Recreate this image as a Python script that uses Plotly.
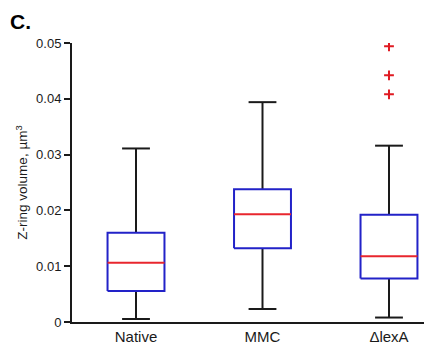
import plotly.graph_objects as go

categories = ["Native", "MMC", "ΔlexA"]
lower_whisker = [0.00054, 0.00233, 0.0008]
q1 = [0.00557, 0.0132, 0.0078]
median = [0.0106, 0.0193, 0.0118]
q3 = [0.0160, 0.0238, 0.0192]
upper_whisker = [0.0311, 0.0394, 0.0316]
outlier_cat = [2, 2, 2]
outlier_vals = [0.0494, 0.0442, 0.0408]
y_ticks = [0, 0.01, 0.02, 0.03, 0.04, 0.05]
y_ticktext = ["0", "0.01", "0.02", "0.03", "0.04", "0.05"]

BW = 0.225   # box half width (category units)
CW = 0.11    # cap half width

fig = go.Figure()

for i, cat in enumerate(categories):
    # whiskers
    fig.add_trace(go.Scatter(
        x=[i, i, None, i, i, None, i - CW, i + CW, None, i - CW, i + CW],
        y=[lower_whisker[i], q1[i], None, q3[i], upper_whisker[i], None,
           lower_whisker[i], lower_whisker[i], None, upper_whisker[i], upper_whisker[i]],
        mode="lines", line=dict(color="#1a1a1a", width=2),
        hoverinfo="skip", showlegend=False))
    # box
    fig.add_trace(go.Scatter(
        x=[i - BW, i + BW, i + BW, i - BW, i - BW],
        y=[q1[i], q1[i], q3[i], q3[i], q1[i]],
        mode="lines", fill="toself", fillcolor="white",
        line=dict(color="#2222c8", width=2),
        hoverinfo="skip", showlegend=False))
    # median
    fig.add_trace(go.Scatter(
        x=[i - BW, i + BW], y=[median[i], median[i]],
        mode="lines", line=dict(color="#e8262e", width=2),
        hoverinfo="skip", showlegend=False))

fig.add_trace(go.Scatter(
    x=outlier_cat, y=outlier_vals, mode="markers",
    marker=dict(symbol="cross-thin", size=7, color="#e01a22",
                line=dict(color="#e01a22", width=2)),
    hoverinfo="skip", showlegend=False))

# the page has a default 8px body margin, so the figure is sized to fit the window
fig.update_layout(
    width=424, height=341,
    margin=dict(l=64, r=0, t=35, b=27, autoexpand=False),
    paper_bgcolor="white", plot_bgcolor="white",
    font=dict(family="Liberation Sans, Arial, sans-serif", color="#1a1a1a"),
    xaxis=dict(range=[-0.506, 2.34], tickmode="array",
               tickvals=list(range(len(categories))), ticktext=categories,
               showgrid=False, zeroline=False, showline=True,
               linecolor="#1a1a1a", linewidth=2, ticks="",
               tickfont=dict(size=15)),
    yaxis=dict(range=[0, 0.05], tickmode="array", tickvals=y_ticks,
               ticktext=y_ticktext, showgrid=False, zeroline=False,
               showline=True, linecolor="#1a1a1a", linewidth=2,
               ticks="outside", ticklen=6, tickwidth=1.5, tickcolor="#1a1a1a",
               tickfont=dict(size=13),
               title=dict(text="Z-ring volume, µm<sup>3</sup>",
                          font=dict(size=13.5), standoff=5)),
    annotations=[dict(text="<b>C.</b>", x=0, y=1, xref="paper", yref="paper",
                      xshift=-64, yshift=8, xanchor="left", yanchor="bottom",
                      showarrow=False, font=dict(size=21, color="black"))],
)

fig.write_html("out.html")
